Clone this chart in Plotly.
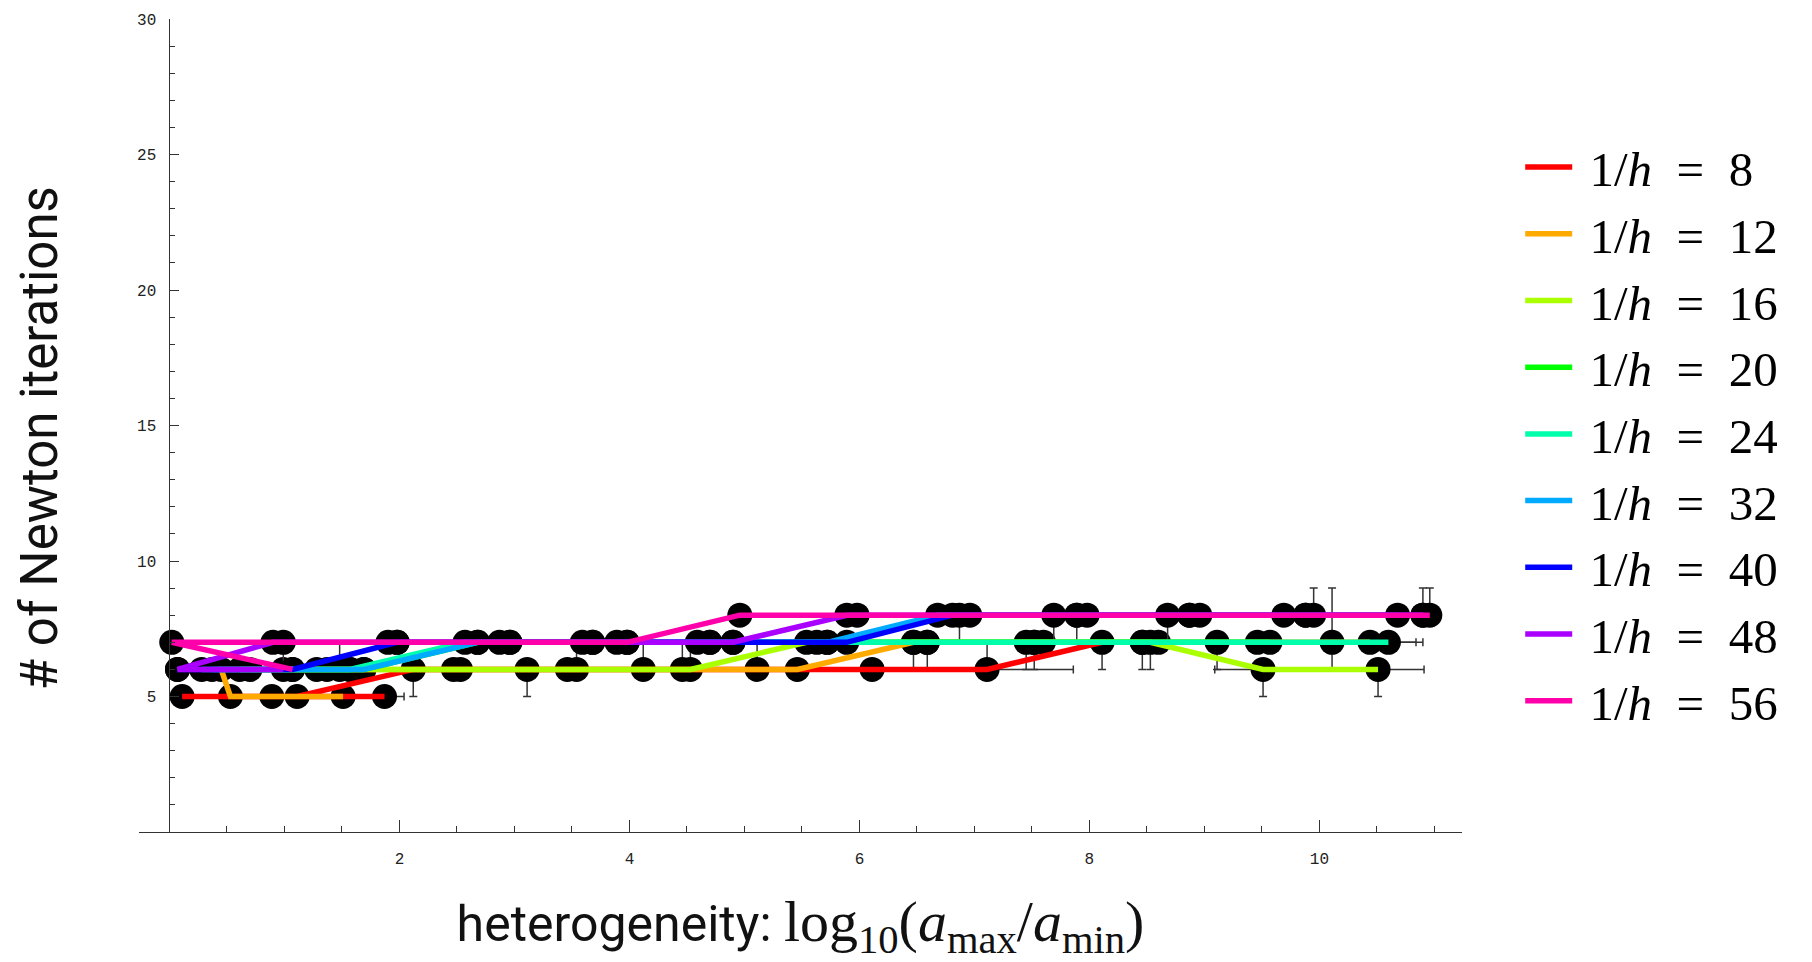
import numpy as np
import plotly.graph_objects as go

# ---------------- data ----------------
series_labels = ["8", "12", "16", "20", "24", "32", "40", "48", "56"]
series_colors = ["#ff0000", "#ffaa00", "#aaff00", "#00ff00", "#00ffaa",
                 "#00aaff", "#0000ff", "#aa00ff", "#ff00aa"]

x_8 = [1.87, 0.11, 0.89, 1.11, 2.12, 3.11, 4.12, 5.11, 6.11, 7.11, 8.11]
y_8 = [5, 5, 5, 5, 6, 6, 6, 6, 6, 6, 7]
x_12 = [1.51, 0.53, 0.45, 1.48, 2.47, 3.46, 4.46, 5.46, 6.47, 7.45, 8.46, 9.46, 10.44]
y_12 = [5, 5, 6, 6, 6, 6, 6, 6, 7, 7, 7, 7, 7]
x_16 = [0.61, 1.57, 2.53, 3.54, 4.53, 5.54, 6.59, 7.52, 8.53, 9.51, 10.51]
y_16 = [6, 6, 6, 6, 6, 7, 7, 7, 7, 6, 6]
x_20 = [0.70, 1.69, 2.68, 3.68, 4.70, 5.72, 6.59, 7.60, 8.60, 9.57]
y_20 = [6, 6, 7, 7, 7, 7, 7, 7, 7, 7]
x_24 = [0.28, 1.28, 1.57, 2.57, 3.59, 4.59, 5.63, 6.47, 7.52, 8.46, 9.11, 10.11, 10.60]
y_24 = [6, 6, 6, 7, 7, 7, 7, 7, 7, 7, 7, 7, 7]
x_32 = [0.37, 1.37, 1.69, 2.68, 3.68, 4.70, 5.72, 6.68, 7.69, 8.68, 9.69, 10.68]
y_32 = [6, 6, 6, 7, 7, 7, 7, 8, 8, 8, 8, 8]
x_40 = [0.07, 1.07, 1.98, 2.96, 3.98, 4.90, 5.89, 6.81, 7.89, 8.87, 9.88, 10.90]
y_40 = [6, 6, 7, 7, 7, 7, 7, 8, 8, 8, 8, 8]
x_48 = [0.99, 0.07, 0.90, 1.90, 2.87, 3.89, 4.90, 5.89, 6.87, 7.89, 8.87, 9.88, 10.90]
y_48 = [6, 6, 7, 7, 7, 7, 7, 8, 8, 8, 8, 8, 8]
x_56 = [1.07, 0.02, 0.99, 1.98, 2.96, 3.98, 4.96, 5.98, 6.96, 7.98, 8.96, 9.95, 10.96]
y_56 = [6, 7, 7, 7, 7, 7, 8, 8, 8, 8, 8, 8, 8]

# error bars: (point index, +dy, -dy, +dx, -dx)
err_8 = [(0, 0, 0, 0.17, 0), (4, 0, 1, 0, 0), (5, 0, 1, 0, 0), (6, 1, 0, 0, 0),
         (7, 1, 0, 0, 0), (9, 1, 0, 0.75, 0), (10, 0, 1, 0, 0)]
err_12 = [(3, 1, 0, 0, 0), (6, 1, 0, 0, 0), (8, 0, 1, 0, 0), (9, 0, 1, 0, 0),
          (10, 0, 1, 0, 0), (12, 0, 0, 0.4, 0)]
err_16 = [(3, 1, 0, 0, 0), (4, 1, 0, 0, 0), (6, 0, 1, 0, 0), (7, 0, 1, 0, 0),
          (8, 0, 1, 0, 0), (9, 0, 1, 0, 0.42), (10, 0, 1, 0.4, 0)]
err_20 = []
err_24 = [(10, 0, 1, 0, 0), (11, 2, 1, 0, 0), (12, 0, 0, 0.3, 0)]
err_32 = [(8, 0, 1, 0, 0), (9, 0, 1, 0, 0)]
err_40 = []
err_48 = [(8, 0, 1, 0, 0), (9, 0, 1, 0, 0), (12, 1, 0, 0, 0)]
err_56 = [(2, 0, 1, 0, 0), (11, 1, 0, 0, 0), (12, 1, 0, 0, 0)]

all_x = [x_8, x_12, x_16, x_20, x_24, x_32, x_40, x_48, x_56]
all_y = [y_8, y_12, y_16, y_20, y_24, y_32, y_40, y_48, y_56]
all_err = [err_8, err_12, err_16, err_20, err_24, err_32, err_40, err_48, err_56]

y_tickvals = [5, 10, 15, 20, 25, 30]
x_tickvals = [2, 4, 6, 8, 10]

# ---------------- figure ----------------
fig = go.Figure()
x_range = [-0.265, 11.24]
y_range = [0, 30]

bar_color = "#333333"
for xs, ys, errs in zip(all_x, all_y, all_err):
    n = len(xs)
    eyp, eym, exp_, exm = [0.0] * n, [0.0] * n, [0.0] * n, [0.0] * n
    for (i, dyp, dym, dxp, dxm) in errs:
        eyp[i], eym[i], exp_[i], exm[i] = dyp, dym, dxp, dxm
    fig.add_trace(go.Scatter(
        x=xs, y=ys, mode="markers", showlegend=False, hoverinfo="skip",
        marker=dict(color="black", size=25, line=dict(width=0)),
        error_y=dict(type="data", symmetric=False, array=eyp, arrayminus=eym,
                     color=bar_color, thickness=1.5, width=4),
        error_x=dict(type="data", symmetric=False, array=exp_, arrayminus=exm,
                     color=bar_color, thickness=1.5, width=4),
    ))

for lab, col, xs, ys in zip(series_labels, series_colors, all_x, all_y):
    fig.add_trace(go.Scatter(
        x=xs, y=ys, mode="lines",
        name="&nbsp;1/<i>h</i>&nbsp; =&nbsp; " + lab,
        line=dict(color=col, width=5.5),
    ))

ypos = (0 - x_range[0]) / (x_range[1] - x_range[0])

fig.update_layout(
    width=1812, height=962,
    margin=dict(l=139, r=350, t=17, b=130),
    plot_bgcolor="white", paper_bgcolor="white",
    showlegend=True,
    legend=dict(
        x=1.044, y=0.865, xanchor="left", yanchor="top",
        font=dict(family="Liberation Serif", size=49, color="black"),
        itemwidth=47, tracegroupgap=0, bgcolor="rgba(0,0,0,0)",
    ),
    xaxis=dict(
        range=x_range, tickvals=x_tickvals, ticks="inside", ticklen=12,
        tickwidth=1, tickcolor=bar_color, showline=True, linecolor=bar_color,
        linewidth=1, showgrid=False, zeroline=False,
        tickfont=dict(family="Liberation Mono", size=16, color="#222"),
        ticklabelstandoff=12,
        minor=dict(tickvals=list(np.arange(0.5, 11.01, 0.5)), ticks="inside",
                   ticklen=6, tickcolor=bar_color, tickwidth=1, showgrid=False),
        title=dict(
            text="heterogeneity: <span style=\"font-family:'Liberation Serif';font-size:58px\">"
                 "log<sub>10</sub>(<i>a</i><sub>max</sub>/<i>a</i><sub>min</sub>)</span>",
            font=dict(family="Roboto", size=50, color="#111"), standoff=43),
    ),
    yaxis=dict(
        range=y_range, anchor="free", position=ypos, side="left",
        tickvals=y_tickvals, ticks="inside", ticklen=9, tickwidth=1,
        tickcolor=bar_color, showline=True, linecolor=bar_color, linewidth=1,
        showgrid=False, zeroline=False,
        tickfont=dict(family="Liberation Mono", size=16, color="#222"),
        ticklabelstandoff=10,
        minor=dict(dtick=1, tick0=0, ticks="inside", ticklen=5,
                   tickcolor=bar_color, tickwidth=1, showgrid=False),
        title=dict(text="# of Newton iterations&nbsp;&nbsp;",
                   font=dict(family="Roboto", size=51, color="#111"), standoff=62),
    ),
)

fig.write_html("out.html")
